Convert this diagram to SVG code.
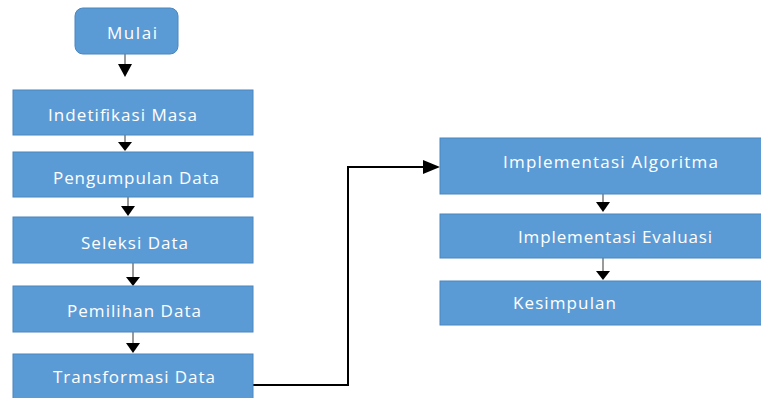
<svg xmlns="http://www.w3.org/2000/svg" width="761" height="398" viewBox="0 0 761 398">
<style>
.box{fill:#5B9BD5;stroke:#4A86BE;stroke-width:1}
.lbl{fill:#FFFFFF;font-family:"Open Sans","Noto Sans",sans-serif;font-size:17px}
.gl{stroke:#9A9A9A;stroke-width:2;fill:none}
.bl{stroke:#000000;stroke-width:2;fill:none}
</style>
<rect width="761" height="398" fill="#FFFFFF"/>
<g id="connectors">
<line class="gl" x1="125" y1="54" x2="125" y2="64"/><path d="M118,64 L132,64 L125,77 Z" fill="#000"/>
<line class="gl" x1="125" y1="135" x2="125" y2="142"/><path d="M118,142 L132,142 L125,151 Z" fill="#000"/>
<line class="gl" x1="128" y1="197" x2="128" y2="206"/><path d="M121,206 L135,206 L128,216 Z" fill="#000"/>
<line class="gl" x1="133" y1="263" x2="133" y2="277"/><path d="M126,277 L140,277 L133,286 Z" fill="#000"/>
<line class="gl" x1="133" y1="332" x2="133" y2="343"/><path d="M126,343 L140,343 L133,353 Z" fill="#000"/>
<line class="gl" x1="603" y1="194" x2="603" y2="202"/><path d="M596,202 L610,202 L603,212 Z" fill="#000"/>
<line class="gl" x1="603" y1="258" x2="603" y2="271"/><path d="M596,271 L610,271 L603,280 Z" fill="#000"/>
<path class="bl" d="M253,385 H348 V167 H425"/><path d="M423,160 L440,167 L423,174 Z" fill="#000"/>
</g>
<g id="mulai"><rect class="box" x="75" y="8" width="103" height="46" rx="8"/><text class="lbl" x="107" y="39" textLength="50">Mulai</text></g>
<g id="indetifikasi"><rect class="box" x="13" y="90" width="240" height="45"/><text class="lbl" x="48" y="121" textLength="149">Indetifikasi Masa</text></g>
<g id="pengumpulan"><rect class="box" x="13" y="152" width="240" height="45"/><text class="lbl" x="53" y="184" textLength="166">Pengumpulan Data</text></g>
<g id="seleksi"><rect class="box" x="13" y="217" width="240" height="46"/><text class="lbl" x="81" y="249" textLength="107">Seleksi Data</text></g>
<g id="pemilihan"><rect class="box" x="13" y="286" width="240" height="46"/><text class="lbl" x="67" y="317" textLength="134">Pemilihan Data</text></g>
<g id="transformasi"><rect class="box" x="13" y="354" width="240" height="50"/><text class="lbl" x="53" y="383" textLength="162">Transformasi Data</text></g>
<g id="algoritma"><rect class="box" x="440" y="138" width="325" height="56"/><text class="lbl" x="503" y="168" textLength="215">Implementasi  Algoritma</text></g>
<g id="evaluasi"><rect class="box" x="440" y="214" width="325" height="44"/><text class="lbl" x="518" y="243" textLength="194">Implementasi Evaluasi</text></g>
<g id="kesimpulan"><rect class="box" x="440" y="281" width="325" height="44"/><text class="lbl" x="513" y="309" textLength="103">Kesimpulan</text></g>
</svg>
